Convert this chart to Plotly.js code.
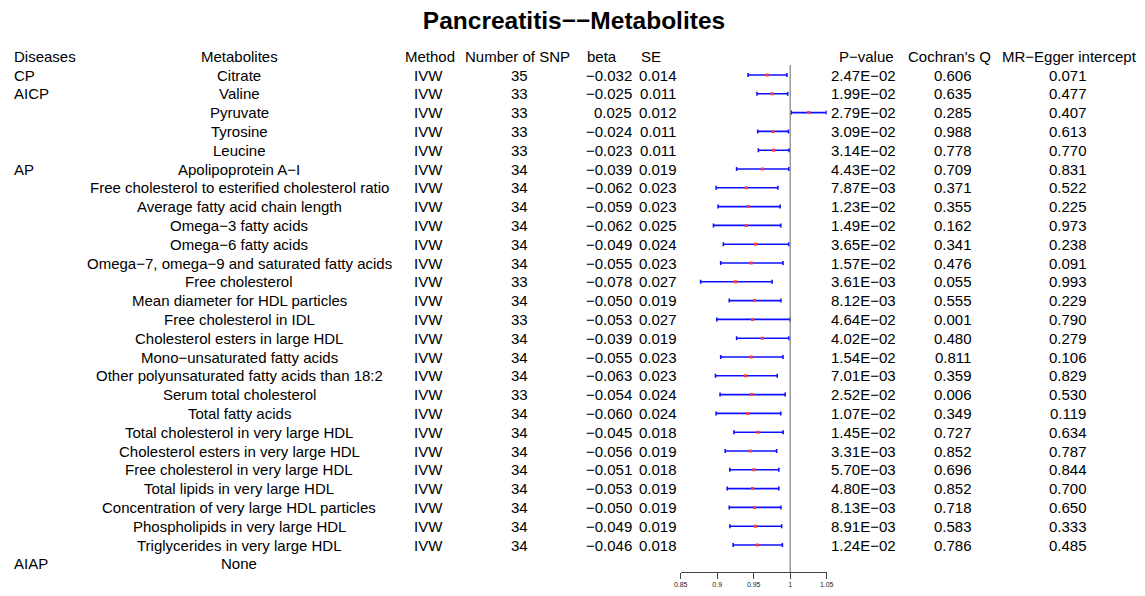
<!DOCTYPE html>
<html>
<head>
<meta charset="utf-8">
<script src="https://cdn.plot.ly/plotly-3.0.1.min.js"></script>
<style>html,body{margin:0;padding:0;background:#fff;}#chart{width:1145px;height:596px;}</style>
</head>
<body>
<div id="chart"></div>
<script>
// ---- data ----
const headers = ["Diseases", "Metabolites", "Method", "Number of SNP", "beta", "SE", "P\u2212value", "Cochran's Q", "MR\u2212Egger intercept"];
const diseases = ["CP", "AICP", "", "", "", "AP", "", "", "", "", "", "", "", "", "", "", "", "", "", "", "", "", "", "", "", "", "AIAP"];
const metabolites = [
  "Citrate", "Valine", "Pyruvate", "Tyrosine", "Leucine", "Apolipoprotein A\u2212I",
  "Free cholesterol to esterified cholesterol ratio", "Average fatty acid chain length",
  "Omega\u22123 fatty acids", "Omega\u22126 fatty acids", "Omega\u22127, omega\u22129 and saturated fatty acids",
  "Free cholesterol", "Mean diameter for HDL particles", "Free cholesterol in IDL",
  "Cholesterol esters in large HDL", "Mono\u2212unsaturated fatty acids",
  "Other polyunsaturated fatty acids than 18:2", "Serum total cholesterol", "Total fatty acids",
  "Total cholesterol in very large HDL", "Cholesterol esters in very large HDL",
  "Free cholesterol in very large HDL", "Total lipids in very large HDL",
  "Concentration of very large HDL particles", "Phospholipids in very large HDL",
  "Triglycerides in very large HDL", "None"
];
const methods = ["IVW","IVW","IVW","IVW","IVW","IVW","IVW","IVW","IVW","IVW","IVW","IVW","IVW","IVW","IVW","IVW","IVW","IVW","IVW","IVW","IVW","IVW","IVW","IVW","IVW","IVW"];
const nSNP = [35,33,33,33,33,34,34,34,34,34,34,33,34,33,34,34,34,33,34,34,34,34,34,34,34,34];
const beta = [-0.032,-0.025,0.025,-0.024,-0.023,-0.039,-0.062,-0.059,-0.062,-0.049,-0.055,-0.078,-0.050,-0.053,-0.039,-0.055,-0.063,-0.054,-0.060,-0.045,-0.056,-0.051,-0.053,-0.050,-0.049,-0.046];
const se = [0.014,0.011,0.012,0.011,0.011,0.019,0.023,0.023,0.025,0.024,0.023,0.027,0.019,0.027,0.019,0.023,0.023,0.024,0.024,0.018,0.019,0.018,0.019,0.019,0.019,0.018];
const pValue = ["2.47E\u221202","1.99E\u221202","2.79E\u221202","3.09E\u221202","3.14E\u221202","4.43E\u221202","7.87E\u221203","1.23E\u221202","1.49E\u221202","3.65E\u221202","1.57E\u221202","3.61E\u221203","8.12E\u221203","4.64E\u221202","4.02E\u221202","1.54E\u221202","7.01E\u221203","2.52E\u221202","1.07E\u221202","1.45E\u221202","3.31E\u221203","5.70E\u221203","4.80E\u221203","8.13E\u221203","8.91E\u221203","1.24E\u221202"];
const cochranQ = ["0.606","0.635","0.285","0.988","0.778","0.709","0.371","0.355","0.162","0.341","0.476","0.055","0.555","0.001","0.480","0.811","0.359","0.006","0.349","0.727","0.852","0.696","0.852","0.718","0.583","0.786"];
const eggerIntercept = ["0.071","0.477","0.407","0.613","0.770","0.831","0.522","0.225","0.973","0.238","0.091","0.993","0.229","0.790","0.279","0.106","0.829","0.530","0.119","0.634","0.787","0.844","0.700","0.650","0.333","0.485"];
// odds ratio with 95% CI
const orEst = [0.9685,0.9753,1.0253,0.9763,0.9773,0.9618,0.9399,0.9427,0.9399,0.9522,0.9465,0.9250,0.9512,0.9484,0.9618,0.9465,0.9389,0.9474,0.9418,0.9560,0.9455,0.9503,0.9484,0.9512,0.9522,0.9550];
const orLow = [0.9423,0.9545,1.0015,0.9555,0.9564,0.9266,0.8985,0.9012,0.8949,0.9084,0.9048,0.8773,0.9165,0.8995,0.9266,0.9048,0.8976,0.9039,0.8985,0.9229,0.9110,0.9173,0.9137,0.9165,0.9174,0.9219];
const orHigh = [0.9955,0.9966,1.0497,0.9976,0.9986,0.9982,0.9832,0.9862,0.9871,0.9980,0.9901,0.9752,0.9873,0.9999,0.9982,0.9901,0.9822,0.9931,0.9871,0.9903,0.9814,0.9844,0.9844,0.9873,0.9883,0.9893];
const xTicks = [0.85, 0.9, 0.95, 1, 1.05];
const xTickText = ["0.85", "0.9", "0.95", "1", "1.05"];

// ---- layout helpers ----
const W = 1145, H = 596;
const FONT = "Liberation Sans, Arial, Helvetica, sans-serif";
const fmtBeta = v => (v < 0 ? "\u2212" : "") + Math.abs(v).toFixed(3);
const rowY = metabolites.map((_, i) => i + 1);
const px = p => p / W;

const annotations = [];
function addText(text, xPix, y, anchor, size) {
  annotations.push({
    text: text, xref: "paper", yref: "y", x: px(xPix), y: y,
    xanchor: anchor || "center", yanchor: "middle", showarrow: false,
    font: {family: FONT, size: size || 15, color: "#000"}
  });
}
// header
const headerX = [12, 239, 429.5, 517, 602, 651, 866.5, 949.5, 1069];
headers.forEach((h, i) => addText(h, headerX[i], 0, i === 0 ? "left" : "center"));
// cells
diseases.forEach((d, i) => { if (d) addText(d, 12, rowY[i], "left"); });
metabolites.forEach((m, i) => addText(m, 239, rowY[i]));
methods.forEach((m, i) => addText(m, 429, rowY[i]));
nSNP.forEach((n, i) => addText(String(n), 519, rowY[i]));
beta.forEach((b, i) => addText(fmtBeta(b), 634, rowY[i], "right"));
se.forEach((s, i) => addText(s.toFixed(3), 658, rowY[i]));
pValue.forEach((p, i) => addText(p, 863.5, rowY[i]));
cochranQ.forEach((q, i) => addText(q, 953, rowY[i]));
eggerIntercept.forEach((e, i) => addText(e, 1067.5, rowY[i]));

const nData = orEst.length;
const trace = {
  type: "scatter", mode: "markers",
  x: orEst, y: rowY.slice(0, nData),
  marker: {symbol: "square", size: 3, color: "#ff3b3b"},
  error_x: {
    type: "data", symmetric: false,
    array: orEst.map((v, i) => orHigh[i] - v),
    arrayminus: orEst.map((v, i) => v - orLow[i]),
    color: "#1010ff", thickness: 1.6, width: 2
  },
  hoverinfo: "skip", showlegend: false
};

const axisBottomPix = 572;
const rowPix = 18.8, firstRowPix = 75;
const yBottom = 1 + (axisBottomPix - firstRowPix) / rowPix;
const yTop = 1 + (0 - firstRowPix) / rowPix;

const layout = {
  width: W, height: H,
  margin: {l: 0, r: 0, t: 0, b: 0, pad: 0},
  paper_bgcolor: "#fff", plot_bgcolor: "rgba(0,0,0,0)",
  title: {
    text: "<b>Pancreatitis\u2212\u2212Metabolites</b>",
    font: {family: FONT, size: 24.5, color: "#000"},
    xref: "paper", yref: "container", x: 574 / W, xanchor: "center",
    y: 1 - 20 / H, yanchor: "middle"
  },
  xaxis: {
    domain: [680.7 / W, 826.7 / W], range: [0.85, 1.05],
    tickvals: xTicks, ticktext: xTickText,
    ticks: "outside", ticklen: 6, tickwidth: 1, tickcolor: "#444",
    showline: true, linecolor: "#444", linewidth: 1,
    showgrid: false, zeroline: false, automargin: false,
    tickfont: {family: FONT, size: 7, color: "#222"}, fixedrange: true
  },
  yaxis: {
    domain: [(H - axisBottomPix) / H, 1], range: [yBottom, yTop],
    visible: false, showgrid: false, zeroline: false, automargin: false, fixedrange: true
  },
  shapes: [{
    type: "line", xref: "x", yref: "y", x0: 1, x1: 1, y0: 0.47, y1: yBottom,
    line: {color: "#7f7f7f", width: 1.2}
  }],
  annotations: annotations
};

Plotly.newPlot("chart", [trace], layout, {displayModeBar: false, staticPlot: true});
</script>
</body>
</html>
